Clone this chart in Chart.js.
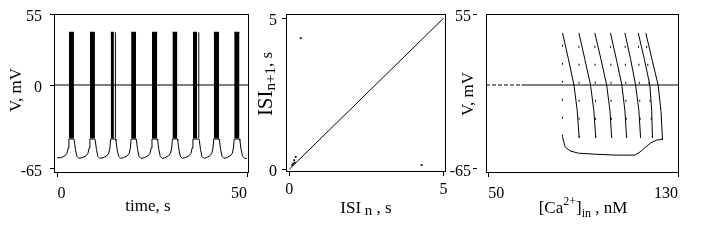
<!DOCTYPE html>
<html>
<head>
<meta charset="utf-8">
<script src="https://cdn.jsdelivr.net/npm/chart.js@4.4.1/dist/chart.umd.min.js"></script>
<style>
  html, body { margin: 0; padding: 0; background: #fff; }
  #wrap { position: relative; width: 706px; height: 241px; overflow: hidden; }
  #wrap canvas { position: absolute; top: 0; }
</style>
</head>
<body>
<div id="wrap">
  <canvas id="fig1" width="252" height="241" style="left:0"></canvas>
  <canvas id="fig2" width="198" height="241" style="left:252px"></canvas>
  <canvas id="fig3" width="256" height="241" style="left:450px"></canvas>
</div>
<script>
// ----- panel 1: V(t) bursting trace -----
const timeS = [
  -0.1, 1.0, 1.98, 2.48, 2.78, 2.98, 4.30, 4.40, 4.70, 5.10, 5.60,
  6.52, 7.52, 8.02, 8.32, 8.52, 9.84, 9.94, 10.24, 10.64, 11.14,
  12.0, 13.0, 13.5, 13.8, 14.0, 15.3, 15.4, 15.7, 16.1, 16.6,
  17.4, 18.4, 18.9, 19.2, 19.4, 20.7, 20.8, 21.1, 21.5, 22.0,
  22.9, 23.9, 24.4, 24.7, 24.9, 26.3, 26.4, 26.7, 27.1, 27.6,
  28.3, 29.3, 29.8, 30.1, 30.3, 31.6, 31.7, 32.0, 32.4, 32.9,
  33.7, 34.7, 35.2, 35.5, 35.7, 37.3, 37.4, 37.7, 38.1, 38.6,
  39.2, 40.2, 40.7, 41.0, 41.2, 42.6, 42.7, 43.0, 43.4, 43.9,
  44.6, 45.6, 46.1, 46.4, 46.6, 48.0, 48.1, 48.4, 48.8, 49.3, 49.9
];
const voltMV = [
  -56.5, -56.5, -55, -53, -49, -42, -42, -43, -50, -55.5, -57,
  -56.5, -55, -53, -49, -42, -42, -43, -50, -55.5, -57,
  -56.5, -55, -53, -49, -42, -42, -43, -50, -55.5, -57,
  -56.5, -55, -53, -49, -42, -42, -43, -50, -55.5, -57,
  -56.5, -55, -53, -49, -42, -42, -43, -50, -55.5, -57,
  -56.5, -55, -53, -49, -42, -42, -43, -50, -55.5, -57,
  -56.5, -55, -53, -49, -42, -42, -43, -50, -55.5, -57,
  -56.5, -55, -53, -49, -42, -42, -43, -50, -55.5, -57,
  -56.5, -55, -53, -49, -42, -42, -43, -50, -55.5, -57, -57
];
const burstStart = [2.98, 8.52, 14.0, 19.4, 24.9, 30.3, 35.7, 41.2, 46.6];
const burstEnd   = [4.30, 9.84, 14.85, 20.7, 26.3, 31.6, 36.8, 42.6, 48.0];
const lateSpikeS = [15.25, 37.25];
const burstTopMV = 41;
const burstLowMV = -41.5;
const timeTicks = [0, 50];
const voltTicks = [55, 0, -65];

// ----- panel 2: return map of inter-spike intervals -----
const isiN  = [0.37, 4.29, 0.21, 0.16, 0.13, 0.10, 0.18];
const isiN1 = [4.34, 0.14, 0.41, 0.30, 0.19, 0.14, 0.22];
const isiDiag = [0, 5];
const isiTicks = [0, 5];

// ----- panel 3: V vs [Ca2+]in phase portrait -----
const spikeTopCa   = [81.3, 88.2, 94.9, 101.5, 107.6, 113.2, 116.4];
const spikeUpperCa = [83.8, 90.7, 97.5, 104.0, 110.0, 115.8, 119.0];
const spikeZeroCa  = [86.1, 93.1, 99.9, 106.3, 112.1, 118.1, 121.6];
const spikeLowerCa = [87.5, 94.5, 101.3, 107.6, 113.5, 118.9, 122.8];
const spikeBotCa   = [88.3, 95.3, 102.0, 108.3, 114.2, 119.2, 123.4];
const spikeLevelsMV = [40.5, 20, 0, -20, -41];
const slowCa = [123.4, 121.0, 118.5, 116.5, 114.0, 111.8, 104.0, 95.0, 88.0, 84.4, 82.3, 81.3];
const slowMV = [-42.3, -42.8, -45.0, -48.0, -52.0, -54.5, -54.5, -53.8, -53.0, -51.2, -47.9, -40.2];
const caTicks = [50, 130];
const volt3Ticks = [55, -65];

const FONT = 'Liberation Serif';
const tickFont = { family: FONT, size: 16 };

// ----- helpers -----
function xAxis(min, max, values, align, height, pad) {
  return {
    type: 'linear', min, max,
    afterBuildTicks: s => { s.ticks = values.map(v => ({ value: v })); },
    // 고정 높이 + 라벨 때문에 생기는 좌우 여백 제거
    afterFit: s => { s.height = height; s.paddingLeft = 0; s.paddingRight = 0; },
    grid: { drawOnChartArea: false, drawTicks: true, tickLength: 4, color: '#000', lineWidth: 1 },
    border: { display: false },
    ticks: { color: '#000', font: tickFont, padding: pad, align, maxRotation: 0, autoSkip: false, callback: v => String(v) }
  };
}

function yAxis(min, max, values, width, pad, tickLen = 4, dash = undefined) {
  return {
    type: 'linear', min, max,
    afterBuildTicks: s => { s.ticks = values.map(v => ({ value: v })); },
    afterFit: s => { s.width = width; s.paddingTop = 0; s.paddingBottom = 0; },
    grid: { drawOnChartArea: false, drawTicks: true, tickLength: tickLen, color: '#000', lineWidth: 1, tickBorderDash: dash },
    border: { display: false },
    ticks: { color: '#000', font: tickFont, padding: pad, labelOffset: 3, autoSkip: false, callback: v => String(v) }
  };
}

const frame = {
  id: 'frame',
  afterDatasetsDraw(chart) {
    const { ctx, chartArea: a } = chart;
    const l = Math.round(a.left), t = Math.round(a.top);
    const r = Math.round(a.right), b = Math.round(a.bottom);
    ctx.save();
    ctx.strokeStyle = '#000';
    ctx.lineWidth = 1;
    ctx.strokeRect(l + 0.5, t + 0.5, r - l - 1, b - t - 1);
    ctx.restore();
  }
};

// axis titles with sub/superscripts
function richTitles(items) {
  return {
    id: 'richTitles',
    afterDraw(chart) {
      const ctx = chart.ctx;
      items.forEach(item => {
        ctx.save();
        ctx.fillStyle = '#000';
        ctx.textAlign = 'left';
        ctx.textBaseline = 'alphabetic';
        let total = 0;
        const widths = item.parts.map(p => {
          ctx.font = `${p.size}px "${FONT}"`;
          const w = ctx.measureText(p.t).width;
          total += w;
          return w;
        });
        ctx.translate(item.x, item.y);
        if (item.rotate) ctx.rotate(-Math.PI / 2);
        let x = -total / 2;
        item.parts.forEach((p, i) => {
          ctx.font = `${p.size}px "${FONT}"`;
          ctx.fillText(p.t, x, p.dy || 0);
          x += widths[i];
        });
        ctx.restore();
      });
    }
  };
}

const line = (data, extra = {}) => Object.assign({
  data, borderColor: '#000', backgroundColor: '#000', borderWidth: 1,
  pointRadius: 0, tension: 0, fill: false
}, extra);

const baseOpts = {
  responsive: false,
  animation: false,
  events: [],
  plugins: { legend: { display: false }, tooltip: { enabled: false } }
};

// ===== FIG 1 =====
const t1Min = -0.95, t1Max = 50.5, vMin = -68.4, vMax = 55.2;
new Chart(document.getElementById('fig1'), {
  type: 'line',
  data: {
    datasets: [
      line(timeS.map((t, i) => ({ x: t, y: voltMV[i] }))),
      ...burstStart.map((s, i) => line(
        [{ x: s, y: burstTopMV }, { x: burstEnd[i], y: burstTopMV }],
        { fill: { value: burstLowMV } })),
      ...lateSpikeS.map(t => line([{ x: t, y: burstLowMV }, { x: t, y: burstTopMV }])),
      line([{ x: t1Min, y: 0 }, { x: t1Max, y: 0 }])
    ]
  },
  options: Object.assign({}, baseOpts, {
    layout: { padding: { left: 0, top: 14, right: 3, bottom: 0 } },
    scales: {
      x: xAxis(t1Min, t1Max, timeTicks, 'inner', 68, 7),
      y: yAxis(vMin, vMax, voltTicks, 54, 8)
    }
  }),
  plugins: [frame, richTitles([
    { x: 148, y: 211, parts: [{ t: 'time, s', size: 17 }] },
    { x: 21, y: 90, rotate: true, parts: [{ t: 'V, mV', size: 17 }] }
  ])]
});

// ===== FIG 2 =====
new Chart(document.getElementById('fig2'), {
  type: 'line',
  data: {
    datasets: [
      line(isiDiag.map(v => ({ x: v, y: v }))),
      line(isiN.map((v, i) => ({ x: v, y: isiN1[i] })), {
        showLine: false, pointRadius: 1.3, pointStyle: 'rect', pointBorderWidth: 0
      })
    ]
  },
  options: Object.assign({}, baseOpts, {
    layout: { padding: { left: 0, top: 14, right: 2, bottom: 0 } },
    scales: {
      x: xAxis(-0.105, 5.08, isiTicks, 'center', 69, 4),
      y: yAxis(-0.09, 5.14, isiTicks, 34, 5)
    }
  }),
  plugins: [frame, richTitles([
    { x: 114, y: 213, parts: [
      { t: 'ISI', size: 17 }, { t: ' n', size: 15, dy: 2 }, { t: ' , s', size: 17 }
    ] },
    { x: 20, y: 84, rotate: true, parts: [
      { t: 'ISI', size: 21 }, { t: 'n+1', size: 15, dy: 3 }, { t: ', s', size: 17 }
    ] }
  ])]
});

// ===== FIG 3 =====
const ca3Min = 49.03, ca3Max = 130.4;
const traj = [{ x: slowCa[slowCa.length - 1], y: slowMV[slowMV.length - 1] }];
spikeTopCa.forEach((_, i) => {
  [spikeTopCa, spikeUpperCa, spikeZeroCa, spikeLowerCa, spikeBotCa].forEach((arr, k) => {
    traj.push({ x: arr[i], y: spikeLevelsMV[k] });
  });
});
slowCa.forEach((c, i) => traj.push({ x: c, y: slowMV[i] }));

new Chart(document.getElementById('fig3'), {
  type: 'line',
  data: {
    datasets: [
      line(traj, {
        segment: { borderDash: c => (c.p1.parsed.y - c.p0.parsed.y > 40 ? [2, 16] : undefined) }
      }),
      line([{ x: ca3Min, y: 0 }, { x: 64, y: 0 }], { borderDash: [4, 2] }),
      line([{ x: 64, y: 0 }, { x: ca3Max, y: 0 }])
    ]
  },
  options: Object.assign({}, baseOpts, {
    layout: { padding: { left: 0, top: 14, right: 27, bottom: 0 } },
    scales: {
      x: xAxis(ca3Min, ca3Max, caTicks, 'inner', 68, 7),
      y: yAxis(vMin, vMax, volt3Ticks, 36, 2, 13, [4, 9])
    }
  }),
  plugins: [frame, richTitles([
    { x: 133, y: 213, parts: [
      { t: '[Ca', size: 17 }, { t: '2+', size: 12, dy: -8 }, { t: ']', size: 17 },
      { t: 'in', size: 12, dy: 4 }, { t: ' , nM', size: 17 }
    ] },
    { x: 22.7, y: 94, rotate: true, parts: [{ t: 'V, mV', size: 17 }] }
  ])]
});
</script>
</body>
</html>
